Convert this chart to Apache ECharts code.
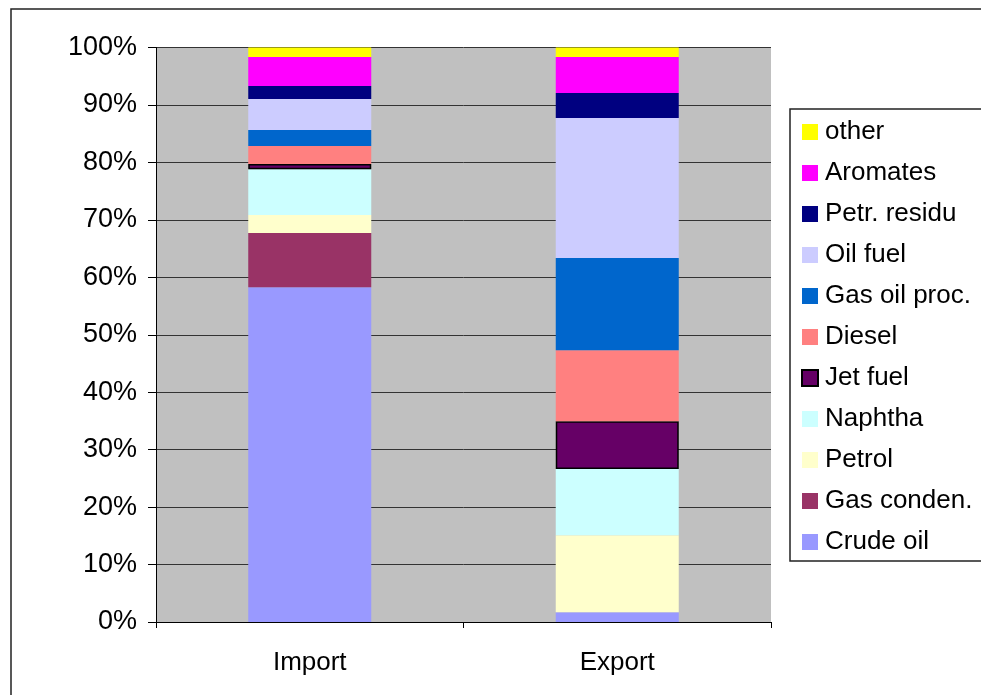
<!DOCTYPE html>
<html>
<head>
<meta charset="utf-8">
<script src="https://cdn.jsdelivr.net/npm/echarts@6/dist/echarts.min.js"></script>
<style>
  html, body { margin: 0; padding: 0; background: #ffffff; }
  #chart { width: 981px; height: 695px; }
</style>
</head>
<body>
<div id="chart"></div>
<script>
// Share of each product in total volume (%), stacked per flow direction
const categories = ['Import', 'Export'];

const seriesNames = ['Crude oil', 'Gas conden.', 'Petrol', 'Naphtha', 'Jet fuel',
  'Diesel', 'Gas oil proc.', 'Oil fuel', 'Petr. residu', 'Aromates', 'other'];

const crudeOil    = [58.28, 1.69];
const gasConden   = [9.42, 0];
const petrol      = [3.13, 13.41];
const naphtha     = [7.96, 11.55];
const jetFuel     = [0.93, 8.30];
const diesel      = [3.13, 12.37];
const gasOilProc  = [2.78, 16.02];
const oilFuel     = [5.40, 24.39];
const petrResidu  = [2.26, 4.35];
const aromates    = [5.05, 6.26];
const other       = [1.66, 1.66];

const yTicks = [0, 10, 20, 30, 40, 50, 60, 70, 80, 90, 100];

const seriesValues = [crudeOil, gasConden, petrol, naphtha, jetFuel,
  diesel, gasOilProc, oilFuel, petrResidu, aromates, other];

const seriesColors = ['#9999FF', '#993366', '#FFFFCC', '#CCFFFF', '#660066',
  '#FF8080', '#0066CC', '#CCCCFF', '#000080', '#FF00FF', '#FFFF00'];

const FONT = '"Liberation Sans", Arial, sans-serif';

const chart = echarts.init(document.getElementById('chart'), null, { renderer: 'canvas' });

const series = seriesNames.map((name, i) => ({
  name: name,
  type: 'bar',
  stack: 'total',
  barWidth: '40%',
  data: seriesValues[i],
  itemStyle: {
    color: seriesColors[i],
    borderColor: name === 'Jet fuel' ? '#000000' : undefined,
    borderWidth: name === 'Jet fuel' ? 1.5 : 0
  },
  emphasis: { disabled: true }
}));

chart.setOption({
  animation: false,
  backgroundColor: '#ffffff',
  graphic: [{
    type: 'rect',
    shape: { x: 11, y: 9, width: 1000, height: 720 },
    style: { fill: 'none', stroke: '#222222', lineWidth: 1.5 },
    silent: true,
    z: -1
  }],
  grid: {
    left: 156, right: 210, top: 47.5, bottom: 73,
    show: true, backgroundColor: '#C0C0C0', borderWidth: 0
  },
  legend: {
    data: seriesNames.slice().reverse(),
    orient: 'vertical',
    left: 790, top: 109,
    padding: [10, 40, 6, 11],
    itemWidth: 16, itemHeight: 16, itemGap: 15,
    icon: 'rect',
    backgroundColor: '#ffffff',
    borderColor: '#222222', borderWidth: 1.5,
    selectedMode: false,
    textStyle: { fontFamily: FONT, fontSize: 26, color: '#000000', lineHeight: 24, padding: [0, 0, 0, 2] }
  },
  xAxis: {
    type: 'category',
    data: categories,
    boundaryGap: true,
    axisLine: { lineStyle: { color: '#000000', width: 1 } },
    axisTick: { show: true, length: 6, alignWithLabel: false, lineStyle: { color: '#000000' } },
    axisLabel: { fontFamily: FONT, fontSize: 26, color: '#000000', margin: 28 },
    splitLine: { show: false }
  },
  yAxis: {
    type: 'value',
    min: yTicks[0], max: yTicks[yTicks.length - 1], interval: 10,
    axisLine: { show: true, lineStyle: { color: '#000000', width: 1 } },
    axisTick: { show: true, length: 8, lineStyle: { color: '#000000' } },
    axisLabel: { fontFamily: FONT, fontSize: 27, color: '#000000', margin: 19, formatter: '{value}%' },
    splitLine: { show: true, lineStyle: { color: '#333333', width: 1 } }
  },
  series: series
});
</script>
</body>
</html>
